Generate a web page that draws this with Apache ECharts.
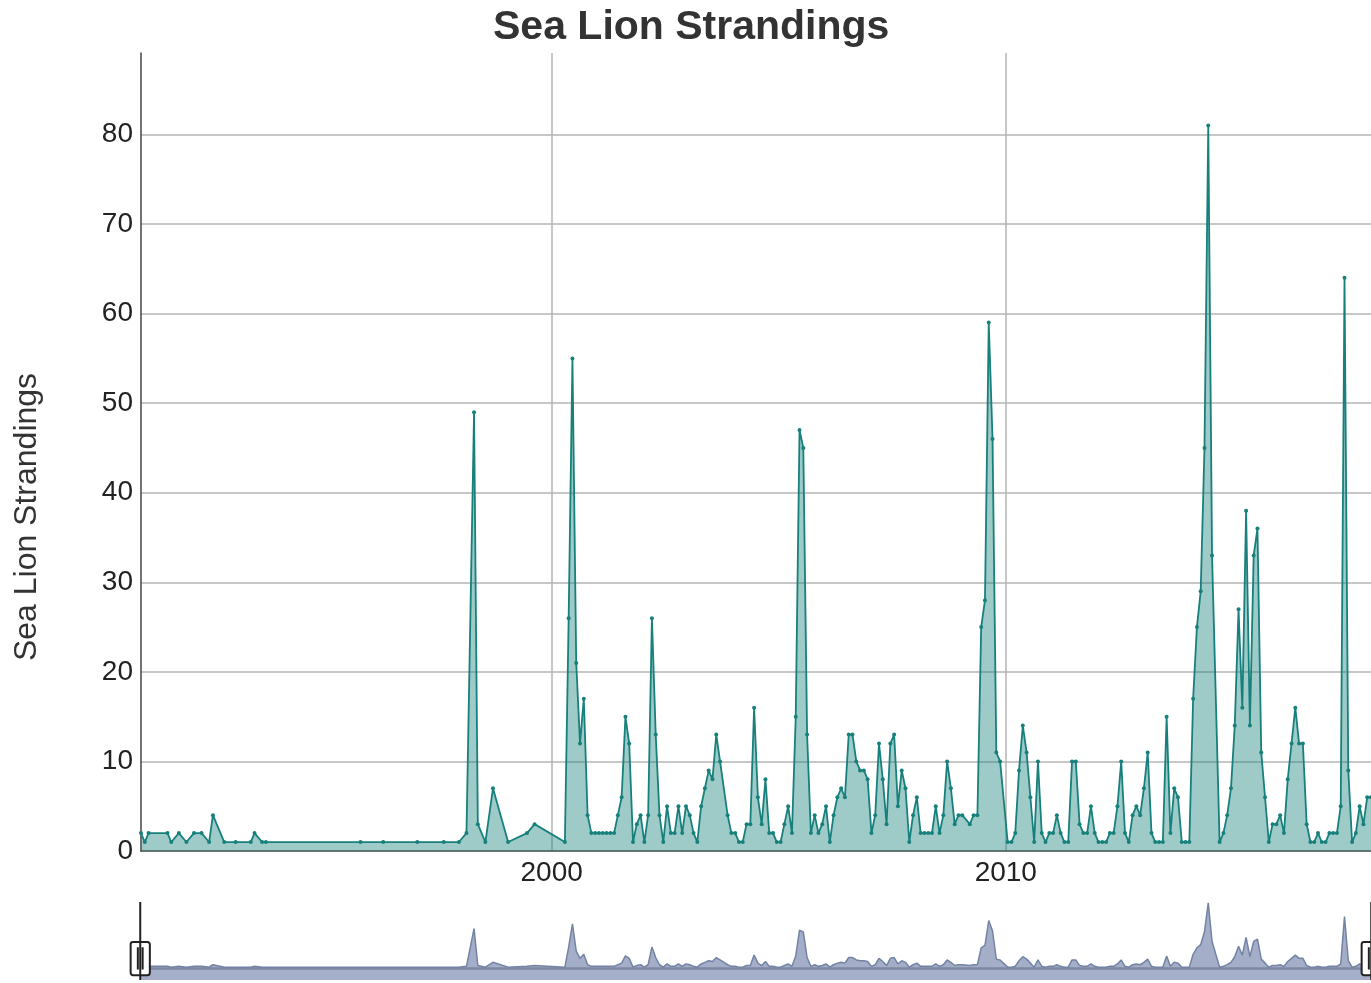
<!DOCTYPE html>
<html>
<head>
<meta charset="utf-8">
<script src="https://cdn.jsdelivr.net/npm/echarts@6/dist/echarts.min.js"></script>
<style>
html,body{margin:0;padding:0;overflow:hidden;background:#fff;}
#chart{width:1371px;height:983px;}
</style>
</head>
<body>
<div id="chart"></div>
<script>
// Monthly stranding counts (month of record)
const dates = [
  '1990-12','1991-01','1991-02','1991-07','1991-08','1991-10','1991-12',
  '1992-02','1992-04','1992-06','1992-07','1992-10',
  '1993-01','1993-05','1993-06','1993-08','1993-09',
  '1995-10','1996-04','1997-01','1997-08','1997-12',
  '1998-02','1998-04','1998-05','1998-07','1998-09',
  '1999-01','1999-06','1999-08',
  '2000-04','2000-05','2000-06','2000-07','2000-08','2000-09','2000-10','2000-11','2000-12',
  '2001-01','2001-02','2001-03','2001-04','2001-05','2001-06','2001-07','2001-08','2001-09','2001-10','2001-11','2001-12',
  '2002-01','2002-02','2002-03','2002-04','2002-05','2002-06','2002-07','2002-08','2002-09','2002-10','2002-11','2002-12',
  '2003-01','2003-02','2003-03','2003-04','2003-05','2003-06','2003-07','2003-08','2003-09','2003-11','2003-12',
  '2004-01','2004-02','2004-03','2004-04','2004-05','2004-06','2004-07','2004-08','2004-09','2004-10','2004-11','2004-12',
  '2005-01','2005-02','2005-03','2005-04','2005-05','2005-06','2005-07','2005-08','2005-09','2005-10','2005-11','2005-12',
  '2006-01','2006-02','2006-03','2006-04','2006-05','2006-06','2006-07','2006-08','2006-09','2006-10','2006-11','2006-12',
  '2007-01','2007-02','2007-03','2007-04','2007-05','2007-06','2007-07','2007-08','2007-09','2007-10','2007-11','2007-12',
  '2008-01','2008-02','2008-03','2008-04','2008-05','2008-06','2008-07','2008-08','2008-09','2008-10','2008-11','2008-12',
  '2009-01','2009-03','2009-04','2009-05','2009-06','2009-07','2009-08','2009-09','2009-10','2009-11',
  '2010-01','2010-02','2010-03','2010-04','2010-05','2010-06','2010-07','2010-08','2010-09','2010-10','2010-11','2010-12',
  '2011-01','2011-02','2011-03','2011-04','2011-05','2011-06','2011-07','2011-08','2011-09','2011-10','2011-11','2011-12',
  '2012-01','2012-02','2012-03','2012-04','2012-05','2012-06','2012-07','2012-08','2012-09','2012-10','2012-11','2012-12',
  '2013-01','2013-02','2013-03','2013-04','2013-05','2013-06','2013-07','2013-08','2013-09','2013-10','2013-11','2013-12',
  '2014-01','2014-02','2014-03','2014-04','2014-05','2014-06','2014-07','2014-09','2014-10','2014-11','2014-12',
  '2015-01','2015-02','2015-03','2015-04','2015-05','2015-06','2015-07','2015-08','2015-09','2015-10','2015-11','2015-12',
  '2016-01','2016-02','2016-03','2016-04','2016-05','2016-06','2016-07','2016-08','2016-09','2016-10','2016-11','2016-12',
  '2017-01','2017-02','2017-03','2017-04','2017-05','2017-06','2017-07','2017-08','2017-09','2017-10','2017-11','2017-12',
  '2018-01'
];
const strandings = [
  2,1,2,2,1,2,1,
  2,2,1,4,1,
  1,1,2,1,1,
  1,1,1,1,1,
  2,49,3,1,7,
  1,2,3,
  1,26,55,21,12,17,4,2,2,
  2,2,2,2,2,4,6,15,12,1,3,4,
  1,4,26,13,4,1,5,2,2,5,2,5,
  4,2,1,5,7,9,8,13,10,4,2,
  2,1,1,3,3,16,6,3,8,2,2,1,
  1,3,5,2,15,47,45,13,2,4,2,3,
  5,1,4,6,7,6,13,13,10,9,9,8,
  2,4,12,8,3,12,13,5,9,7,1,4,
  6,2,2,2,2,5,2,4,10,7,3,4,
  4,3,4,4,25,28,59,46,11,10,
  1,1,2,9,14,11,6,1,10,2,1,2,
  2,4,2,1,1,10,10,3,2,2,5,2,
  1,1,1,2,2,5,10,2,1,4,5,4,
  7,11,2,1,1,1,15,2,7,6,1,1,
  1,17,25,29,45,81,33,1,2,4,7,
  14,27,16,38,14,33,36,11,6,1,3,3,
  4,2,8,12,16,12,12,3,1,1,2,1,
  1,2,2,2,5,64,9,1,2,5,3,6,
  6
];
const yTicks = [0,10,20,30,40,50,60,70,80];
const xTickYears = [2000, 2010];

function toYear(s){
  const p = s.split('-');
  return +p[0] + (+p[1] - 0.5) / 12;
}
const seriesData = dates.map((d,i) => [toYear(d), strandings[i]]);
const yMax = Math.max(...strandings) * 1.1;

const FONT = 'Liberation Sans, Arial, Helvetica, sans-serif';
const chart = echarts.init(document.getElementById('chart'));
chart.setOption({
  animation: false,
  backgroundColor: '#fff',
  textStyle: {fontFamily: FONT},
  title: {
    text: 'Sea Lion Strandings',
    left: 488,
    top: 2,
    textStyle: {fontSize: 41, fontWeight: 'bold', color: '#333', fontFamily: FONT}
  },
  grid: [
    {left: 141, right: 0, top: 53, bottom: 132},
    {left: 141, right: 0, top: 870, bottom: 3}
  ],
  xAxis: [{
    type: 'value',
    gridIndex: 0,
    min: 'dataMin',
    max: 'dataMax',
    splitNumber: 2,
    axisLine: {show: true, lineStyle: {color: '#444', width: 1.5}},
    axisTick: {show: false},
    axisLabel: {
      fontSize: 28, color: '#222', margin: 8,
      showMinLabel: false, showMaxLabel: false,
      formatter: v => xTickYears.indexOf(Math.round(v)) >= 0 && Math.abs(v - Math.round(v)) < 1e-6 ? String(Math.round(v)) : ''
    },
    splitLine: {show: true, showMinLine: false, showMaxLine: false, lineStyle: {color: '#b5b5b5', width: 1.5}}
  }, {
    type: 'value',
    gridIndex: 1,
    min: 'dataMin',
    max: 'dataMax',
    axisLine: {show: true, lineStyle: {color: '#3a3f4a', width: 2.5}},
    axisTick: {show: false},
    axisLabel: {show: false},
    splitLine: {show: false}
  }],
  yAxis: [{
    type: 'value',
    gridIndex: 0,
    min: 0,
    max: yMax,
    interval: 10,
    name: 'Sea Lion Strandings',
    nameLocation: 'middle',
    nameGap: 98,
    nameTextStyle: {fontSize: 32, color: '#333', fontFamily: FONT, padding: [0, 130, 0, 0]},
    axisLine: {show: true, lineStyle: {color: '#444', width: 1.5}},
    axisTick: {show: false},
    axisLabel: {
      fontSize: 28, color: '#222', margin: 8, showMaxLabel: false,
      formatter: v => yTicks.indexOf(v) >= 0 ? String(v) : ''
    },
    splitLine: {show: true, showMinLine: false, showMaxLine: false, lineStyle: {color: '#b5b5b5', width: 1.5}}
  }, {
    type: 'value',
    gridIndex: 1,
    min: -15,
    max: 122,
    show: false,
    splitLine: {show: false}
  }],
  dataZoom: [{
    type: 'slider',
    xAxisIndex: 0,
    start: 0,
    end: 100,
    left: 138,
    right: 0,
    top: 900,
    height: 80,
    showDetail: false,
    showDataShadow: false,
    brushSelect: false,
    moveHandleSize: 0,
    borderColor: 'transparent',
    backgroundColor: 'transparent',
    fillerColor: 'rgba(0,0,0,0)',
    handleIcon: 'path://M0,100M0,0V97.5M-9,6h18a3,3,0,0,1,3,3v35.5a3,3,0,0,1,-3,3h-18a3,3,0,0,1,-3,-3v-35.5a3,3,0,0,1,3,-3zM-3,13V41M3,13V41',
    handleSize: '100%',
    handleStyle: {color: '#fff', borderColor: '#222', borderWidth: 2}
  }],
  series: [{
    type: 'line',
    name: 'Sea Lion Strandings',
    xAxisIndex: 0,
    yAxisIndex: 0,
    data: seriesData,
    symbol: 'circle',
    symbolSize: 4,
    showSymbol: true,
    lineStyle: {color: '#17807c', width: 1.8},
    itemStyle: {color: '#17807c'},
    areaStyle: {color: '#17807c', opacity: 0.42}
  }, {
    type: 'line',
    name: 'overview',
    xAxisIndex: 1,
    yAxisIndex: 1,
    data: seriesData,
    showSymbol: false,
    silent: true,
    lineStyle: {color: '#7383a3', width: 1.5},
    areaStyle: {color: '#8e9aba', opacity: 0.8, origin: 'start'}
  }]
});
</script>
</body>
</html>
